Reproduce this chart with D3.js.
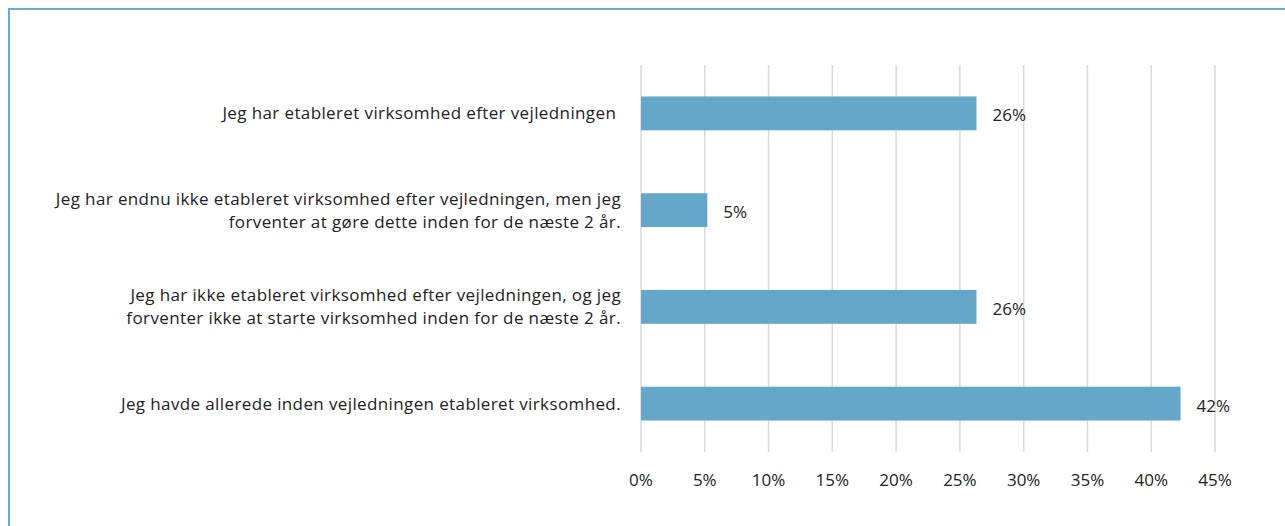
<!DOCTYPE html>
<html>
<head>
<meta charset="utf-8">
<script src="https://cdn.jsdelivr.net/npm/d3@7"></script>
<style>
  html, body { margin: 0; padding: 0; background: #fff; }
  svg { display: block; font-family: "Open Sans", "Noto Sans", sans-serif; }
  text { white-space: pre; }
</style>
</head>
<body>
<svg id="chart"></svg>
<script>
const categories = [
  ["Jeg har etableret virksomhed efter vejledningen "],
  ["Jeg har endnu ikke etableret virksomhed efter vejledningen, men jeg", "forventer at gøre dette inden for de næste 2 år."],
  ["Jeg har ikke etableret virksomhed efter vejledningen, og jeg", "forventer ikke at starte virksomhed inden for de næste 2 år."],
  ["Jeg havde allerede inden vejledningen etableret virksomhed."]
];
const values = [0.263, 0.052, 0.263, 0.423];
const valueLabels = ["26%", "5%", "26%", "42%"];
const tickValues = [0, 0.05, 0.10, 0.15, 0.20, 0.25, 0.30, 0.35, 0.40, 0.45];

const width = 1285;
const height = 526;
const margin = { top: 65, right: 70, bottom: 74, left: 641 };
const fontSize = 17;

const svg = d3.select("#chart")
  .attr("width", width)
  .attr("height", height);

// outer frame (cut off at right and bottom like the source)
svg.append("rect")
  .attr("x", 9)
  .attr("y", 9)
  .attr("width", width)
  .attr("height", height)
  .attr("fill", "none")
  .attr("stroke", "#6aaad2")
  .attr("stroke-width", 2);

const x = d3.scaleLinear()
  .domain([0, 0.45])
  .range([margin.left, width - margin.right]);

const y = d3.scaleBand()
  .domain(d3.range(categories.length))
  .range([margin.top, height - margin.bottom])
  .paddingInner(0.65)
  .paddingOuter(0.325);

// gridlines
svg.append("g")
  .selectAll("line")
  .data(tickValues)
  .join("line")
  .attr("x1", d => x(d))
  .attr("x2", d => x(d))
  .attr("y1", margin.top)
  .attr("y2", height - margin.bottom)
  .attr("stroke", "#d9d9d9")
  .attr("stroke-width", 1.5);

// tick labels
svg.append("g")
  .selectAll("text")
  .data(tickValues)
  .join("text")
  .attr("x", d => x(d))
  .attr("y", 486)
  .attr("text-anchor", "middle")
  .attr("font-size", fontSize)
  .attr("fill", "#222")
  .text(d => d3.format(".0%")(d));

// bars
svg.append("g")
  .selectAll("rect")
  .data(values)
  .join("rect")
  .attr("x", x(0))
  .attr("y", (d, i) => y(i))
  .attr("width", d => x(d) - x(0))
  .attr("height", y.bandwidth())
  .attr("fill", "#65a7c8");

// value labels
svg.append("g")
  .selectAll("text")
  .data(values)
  .join("text")
  .attr("x", d => x(d) + 16)
  .attr("y", (d, i) => y(i) + y.bandwidth() / 2 + 8)
  .attr("font-size", fontSize)
  .attr("fill", "#222")
  .text((d, i) => valueLabels[i]);

// category labels
const cat = svg.append("g")
  .selectAll("text")
  .data(categories)
  .join("text")
  .attr("text-anchor", "end")
  .attr("font-size", fontSize)
  .attr("letter-spacing", 0.38)
  .attr("fill", "#222")
  .attr("y", (d, i) => y(i) + y.bandwidth() / 2 + 6 - (d.length - 1) * 11.5);

cat.selectAll("tspan")
  .data(d => d)
  .join("tspan")
  .attr("x", 621)
  .attr("dy", (d, i) => i === 0 ? 0 : 23)
  .text(d => d);
</script>
</body>
</html>
